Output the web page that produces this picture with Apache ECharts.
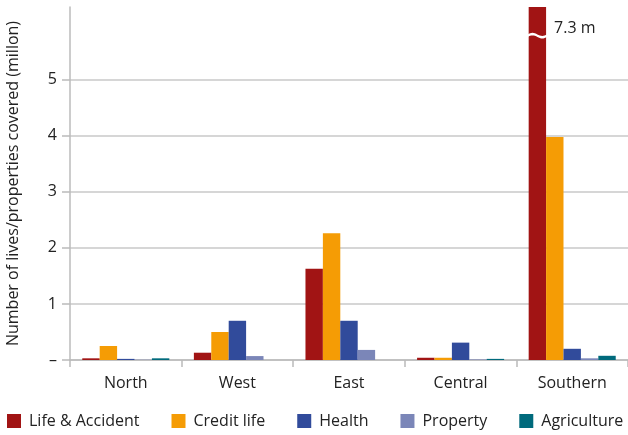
<!DOCTYPE html>
<html>
<head>
<meta charset="utf-8">
<script src="https://cdn.jsdelivr.net/npm/echarts@6/dist/echarts.min.js"></script>
<style>html,body{margin:0;padding:0;background:#fff}#c{width:628px;height:435px}</style>
</head>
<body>
<div id="c"></div>
<script>
const categories = ['North', 'West', 'East', 'Central', 'Southern'];
const lifeAccident = [0.03, 0.13, 1.63, 0.04, 7.3];
const creditLife   = [0.25, 0.50, 2.26, 0.04, 3.98];
const health       = [0.02, 0.70, 0.70, 0.31, 0.20];
const property     = [0.005, 0.07, 0.18, 0.01, 0.03];
const agriculture  = [0.03, 0, 0, 0.02, 0.075];
const seriesNames = ['Life & Accident', 'Credit life', 'Health', 'Property', 'Agriculture'];
const seriesColors = ['#a11414', '#f59c05', '#314b9b', '#7b86b8', '#006a7c'];
const yTicks = [0, 1, 2, 3, 4, 5];
const breakLabel = '7.3 m';

const FONT = 'Open Sans';
const chart = echarts.init(document.getElementById('c'), null, {renderer: 'canvas'});
const allData = [lifeAccident, creditLife, health, property, agriculture];
const option = {
  animation: false,
  textStyle: {fontFamily: FONT},
  grid: {left: 70, right: 0, top: 7, bottom: 75, containLabel: false, outerBoundsMode: 'none'},
  legend: {
    bottom: 6, left: 7, padding: 0, width: 800, itemGap: 32, itemWidth: 14, itemHeight: 14, icon: 'rect',
    textStyle: {fontFamily: FONT, fontSize: 16, color: '#222', padding: [0, 0, 0, 3]},
    data: seriesNames
  },
  xAxis: {
    type: 'category', data: categories,
    axisLine: {lineStyle: {color: '#bbb', width: 1.5}},
    axisTick: {show: true, length: 7, lineStyle: {color: '#bbb', width: 1.5}},
    axisLabel: {fontFamily: FONT, fontSize: 16, color: '#222', margin: 15}
  },
  yAxis: {
    type: 'value', min: 0, max: 6.3,
    name: 'Number of lives/properties covered (millon)',
    nameLocation: 'middle', nameGap: 49,
    nameTextStyle: {fontFamily: FONT, fontSize: 16, color: '#222'},
    axisLine: {show: true, lineStyle: {color: '#bbb', width: 1.5}},
    axisTick: {show: true, length: 8, customValues: yTicks, lineStyle: {color: '#bbb', width: 1.5}},
    axisLabel: {customValues: yTicks, fontFamily: FONT, fontSize: 16, color: '#222', margin: 13,
      formatter: v => v === 0 ? '–' : String(v)},
    splitLine: {show: true, lineStyle: {color: '#c8c8c8', width: 1.5}}
  },
  series: allData.map((d, i) => ({
    name: seriesNames[i], type: 'bar', data: d,
    barGap: 0, barCategoryGap: '22%',
    itemStyle: {color: seriesColors[i]}
  }))
};
chart.setOption(option);

// break marker on the clipped Southern Life & Accident bar
const idx = categories.indexOf('Southern');
const center = chart.convertToPixel({xAxisIndex: 0, yAxisIndex: 0}, [idx, 5.79]);
const band = chart.convertToPixel({xAxisIndex: 0}, 1) - chart.convertToPixel({xAxisIndex: 0}, 0);
const barW = band * 0.78 / 5;
const bx = center[0] - 2 * barW;
const pts = [];
const N = 16;
for (let k = 0; k <= N; k++) {
  const t = k / N;
  const x = bx - barW / 2 - 1 + t * (barW + 2);
  pts.push([x, center[1] - 1.2 + 1.6 * Math.sin(t * Math.PI * 2 + Math.PI)]);
}
for (let k = N; k >= 0; k--) {
  const t = k / N;
  const x = bx - barW / 2 - 1 + t * (barW + 2);
  pts.push([x, center[1] + 1.4 + 1.6 * Math.sin(t * Math.PI * 2 + Math.PI)]);
}
chart.setOption({
  graphic: [
    {type: 'polygon', z: 100, shape: {points: pts}, style: {fill: '#fff'}},
    {type: 'text', z: 100, x: bx + barW / 2 + 8, y: center[1] - 15,
     style: {text: breakLabel, font: '16px "Open Sans"', fill: '#222'}}
  ]
});
</script>
</body>
</html>
